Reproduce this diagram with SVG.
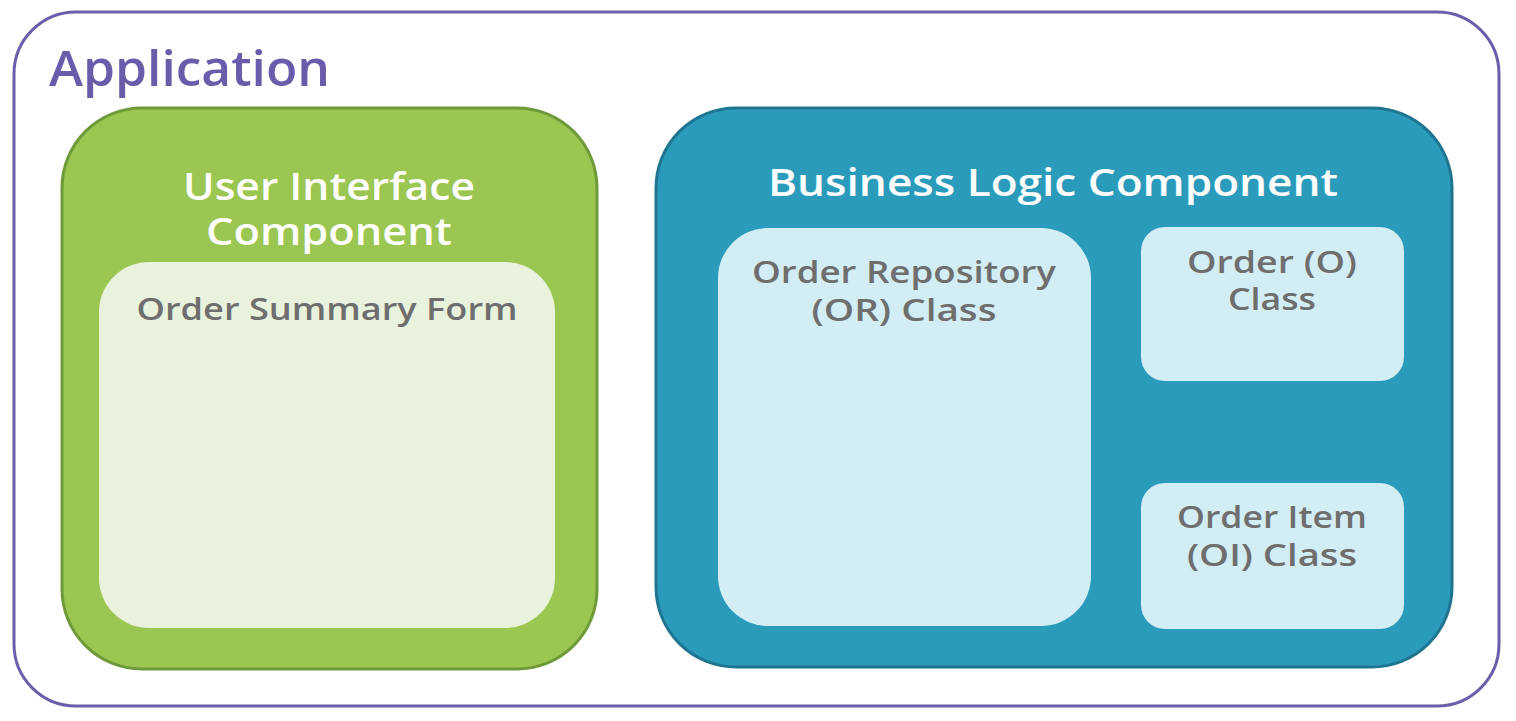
<svg xmlns="http://www.w3.org/2000/svg" width="1516" height="721" viewBox="0 0 1516 721">
<style>
.t{font-family:"Open Sans","Liberation Sans",sans-serif;font-weight:600;text-anchor:middle}
.w{fill:#ffffff;font-size:38px}
.g{fill:#6e6e6e;font-size:31px}
</style>
<rect width="1516" height="721" fill="#ffffff"/>
<g id="application">
<rect x="14" y="12" width="1485" height="694" rx="62" fill="#ffffff" stroke="#6b5fab" stroke-width="3"/>
<text x="49" y="86" font-family="Open Sans, Liberation Sans, sans-serif" font-weight="600" font-size="48" fill="#6a5caa" textLength="281" lengthAdjust="spacingAndGlyphs">Application</text>
</g>
<g id="ui-component">
<rect x="62" y="108" width="535" height="561" rx="80" fill="#9bc651" stroke="#6f9a3a" stroke-width="3"/>
<text class="t w" x="329" y="200" textLength="292" lengthAdjust="spacingAndGlyphs">User Interface</text>
<text class="t w" x="329" y="245" textLength="246" lengthAdjust="spacingAndGlyphs">Component</text>
</g>
<g id="order-summary-form">
<rect x="99" y="262" width="456" height="366" rx="50" fill="#e9f2dc"/>
<text class="t g" x="327" y="320" textLength="381" lengthAdjust="spacingAndGlyphs">Order Summary Form</text>
</g>
<g id="bl-component">
<rect x="656" y="108" width="796" height="559" rx="80" fill="#2b9bbb" stroke="#1f7590" stroke-width="3"/>
<text class="t w" x="1053" y="196" textLength="570" lengthAdjust="spacingAndGlyphs">Business Logic Component</text>
</g>
<g id="order-repository">
<rect x="718" y="228" width="373" height="398" rx="50" fill="#d2edf4"/>
<text class="t g" x="904" y="283" textLength="304" lengthAdjust="spacingAndGlyphs">Order Repository</text>
<text class="t g" x="904" y="321" textLength="185" lengthAdjust="spacingAndGlyphs">(OR) Class</text>
</g>
<g id="order-class">
<rect x="1141" y="227" width="263" height="154" rx="24" fill="#d2edf4"/>
<text class="t g" x="1272" y="273" textLength="170" lengthAdjust="spacingAndGlyphs">Order (O)</text>
<text class="t g" x="1272" y="310" textLength="88" lengthAdjust="spacingAndGlyphs">Class</text>
</g>
<g id="order-item-class">
<rect x="1141" y="483" width="263" height="146" rx="24" fill="#d2edf4"/>
<text class="t g" x="1272" y="528" textLength="190" lengthAdjust="spacingAndGlyphs">Order Item</text>
<text class="t g" x="1272" y="566" textLength="170" lengthAdjust="spacingAndGlyphs">(OI) Class</text>
</g>
<g id="connectors"/>
</svg>
